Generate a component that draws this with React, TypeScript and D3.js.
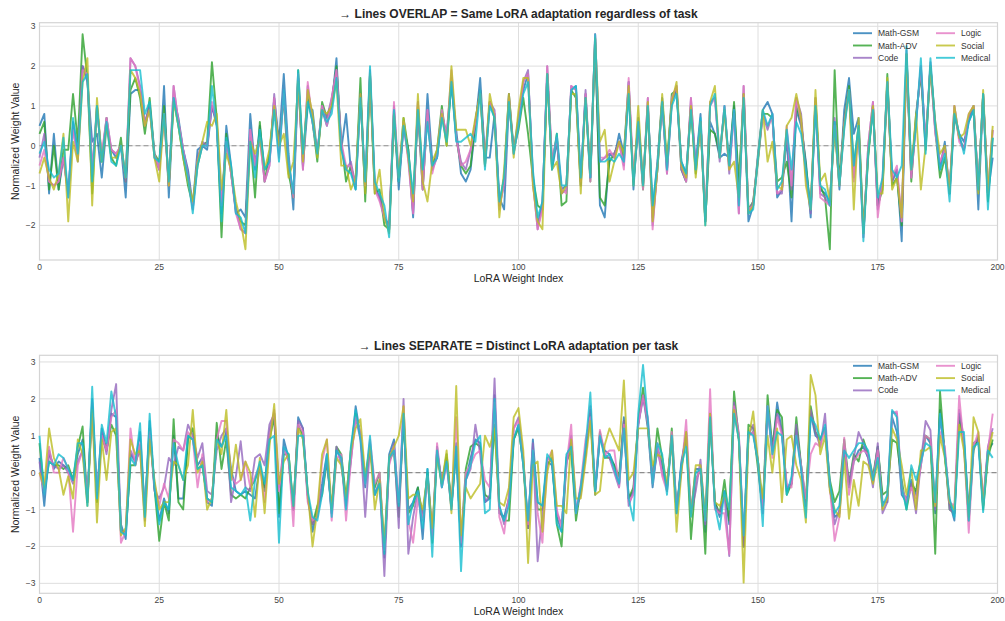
import React from 'react';
import * as d3 from 'd3';

const seriesNames = ['Math-GSM', 'Math-ADV', 'Code', 'Logic', 'Social', 'Medical'];
const seriesColors = ['#1f77b4', '#2ca02c', '#9467bd', '#e377c2', '#bcbd22', '#17becf'];
const xTicks = [0, 25, 50, 75, 100, 125, 150, 175, 200];
const overlapYTicks = [-2, -1, 0, 1, 2, 3];
const separateYTicks = [-3, -2, -1, 0, 1, 2, 3];

// top panel: all tasks share the same adaptation
const overlapMathGsm = [
  0.5, 0.8, -1.2, 0.3, -1.1, -0.3, -1.2, 0.6, -0.1, 2.0,
  1.6, 0.1, 0.3, -0.8, 0.5, -0.1, -0.3, 0.0, -1.3, 1.3,
  1.4, 1.4, 0.5, 1.0, -0.2, -0.6, 1.5, -1.3, 1.2, 0.7,
  -0.1, -0.6, -1.5, -0.1, 0.0, -0.1, 1.0, 0.5, -1.7, 0.5,
  -0.5, -1.7, -1.6, -1.8, 0.8, -0.6, 0.5, -0.6, -0.4, 1.2,
  0.1, 1.8, -0.2, -1.6, 1.7, -0.5, 1.0, 0.9, -0.2, 0.9,
  0.5, 1.0, 2.2, -0.1, 0.8, -0.6, -1.1, 1.3, -1.2, 1.8,
  -1.0, -1.3, -1.8, -2.0, 0.8, -1.1, 0.5, -0.1, -1.8, 1.0,
  -0.9, 1.3, -0.4, -0.3, 0.8, 0.2, 1.6, 0.4, -0.7, -0.9,
  -0.6, 0.5, 1.7, -0.3, -0.3, 0.8, -1.3, -1.6, 1.1, -0.1,
  0.7, 1.4, 1.8, -0.7, -2.0, -1.4, 1.8, -0.6, 0.1, -1.1,
  -1.0, 1.4, 1.5, -0.9, 1.3, -0.8, 2.7, -1.5, -1.8, -0.2,
  -0.3, 0.3, -0.2, 1.6, -1.1, 0.7, -0.9, 1.0, -1.6, -0.4,
  1.2, -0.5, 1.1, 1.4, -0.4, -0.7, 1.0, -0.5, 0.8, -1.9,
  0.6, 0.3, -0.3, -0.2, -0.3, 1.0, -1.2, 1.3, -1.9, -1.5,
  -0.2, 0.9, 1.1, 0.8, -1.3, -1.1, 0.2, -1.9, 0.9, 0.5,
  -0.4, -1.8, 1.1, -1.1, -1.2, -1.4, 0.6, -1.1, 0.9, 1.7,
  0.3, 0.7, -2.1, -0.2, 1.0, -1.5, -1.0, 1.5, -0.9, -0.6,
  -2.4, 2.2, -0.7, 0.7, 1.9, 0.1, 2.0, 0.6, -0.6, 0.1,
  -1.2, 0.8, 0.3, 0.1, 0.6, 0.9, -1.6, 1.3, -1.2, -0.3,
];
const overlapMathAdv = [
  0.3, 0.6, -1.1, 0.0, -1.1, -0.1, -0.1, 1.3, 0.1, 2.8,
  1.7, -1.2, 1.0, -0.4, 0.7, -0.3, -0.5, 0.2, -0.9, 1.4,
  1.7, 1.2, 0.3, 1.2, -0.2, -0.4, 1.0, -1.0, 1.2, 0.5,
  -0.3, -1.0, -1.5, -0.5, 0.0, 0.1, 2.1, 0.7, -2.3, 0.3,
  -0.7, -1.6, -1.9, -2.0, 0.2, -1.3, 0.6, -0.9, -0.2, 1.0,
  0.0, 1.2, -0.7, -1.3, 1.9, -0.3, 1.2, 0.6, -0.4, 1.1,
  0.7, 1.1, 2.0, 0.1, -0.9, -0.5, -1.0, 1.7, -1.4, 1.7,
  -1.2, -1.1, -2.0, -2.1, 0.8, -0.9, 0.7, -0.1, -1.5, 0.9,
  -1.1, 0.8, -0.6, -0.1, 1.0, 0.0, 1.6, 0.2, -0.5, -0.7,
  -0.5, 0.6, 1.4, -0.5, 1.1, 0.7, -1.5, -0.8, 1.3, -0.1,
  0.4, 1.2, 0.3, -0.8, -1.5, -1.6, 1.8, -0.5, 0.3, -1.5,
  -1.4, 1.4, 1.2, -1.0, 1.2, -0.9, 2.6, -1.3, -1.5, -0.4,
  -0.2, 0.1, -0.3, 1.4, -0.9, 0.5, -1.1, 1.0, -1.8, -0.6,
  1.1, -0.6, 1.3, 1.4, -0.6, -0.9, 1.0, -0.7, 0.6, -1.9,
  0.4, 0.3, -0.2, 0.9, -0.5, 1.1, -0.9, 1.3, -1.6, -1.4,
  -0.4, 0.8, 0.8, 0.7, -0.9, -0.8, -0.4, -1.3, 1.0, 0.6,
  -0.5, -1.6, 1.2, -1.0, -1.3, -2.6, 1.9, -0.9, 0.6, 1.5,
  -0.5, 0.5, -2.2, -0.3, 1.0, -1.5, -1.1, 1.8, -1.0, -0.8,
  -2.0, 2.3, -0.9, 0.8, 1.8, -0.1, 2.0, 0.4, -0.8, -0.3,
  -1.1, 0.8, 0.2, -0.1, 0.7, 1.0, -1.1, 1.3, -1.4, 0.2,
];
const overlapCode = [
  -0.3, 0.3, -0.9, -1.0, -0.9, -0.3, -1.2, 0.5, -0.4, 2.0,
  1.7, -0.6, 1.0, -0.3, 0.7, -0.1, -0.2, 0.0, -0.9, 2.2,
  2.0, 1.5, 0.6, 1.0, -0.3, -0.6, 0.8, -1.0, 1.5, 0.6,
  -0.1, -0.7, -1.6, -0.3, 0.1, 0.0, 1.0, 0.6, -1.5, 0.1,
  -0.7, -1.6, -2.1, -2.2, 0.4, -0.4, 0.2, -0.9, -0.5, 1.3,
  -0.2, 1.4, -0.5, -1.2, 1.7, -0.6, 1.5, 0.6, -0.2, 1.0,
  0.7, 1.2, 1.9, 0.0, -0.6, -0.4, -1.0, 1.3, -1.0, 1.9,
  -1.1, -1.3, -1.8, -2.1, 1.0, -0.9, 0.5, -0.3, -1.7, 1.1,
  -1.1, 0.9, -0.6, -0.3, 0.8, 0.3, 1.7, 0.2, -0.4, -0.6,
  -0.1, 0.6, 1.4, -0.3, 1.1, 0.9, -1.5, -1.0, 1.3, -0.2,
  0.6, 1.6, 1.9, -0.9, -2.1, -1.5, 2.0, -0.4, 0.2, -1.2,
  -1.1, 1.5, 1.4, -1.0, 1.4, -0.8, 2.8, -0.4, -0.3, -0.2,
  -0.2, 0.1, -0.5, 1.6, -0.9, 0.6, -1.0, 1.2, -2.0, -0.6,
  1.1, -0.7, 1.1, 1.5, -0.6, -0.9, 1.2, -0.5, 0.6, -1.9,
  1.1, 1.2, -0.4, 1.0, -0.7, 0.9, -1.7, 1.5, -1.7, -1.4,
  -0.3, 0.8, 0.4, 0.8, -1.2, -1.2, 0.4, -1.1, 1.2, 0.8,
  -0.7, -1.7, 1.1, -1.2, -1.3, -1.5, 0.7, -1.0, 0.6, 1.4,
  -0.8, 0.4, -2.3, 0.0, 1.1, -1.6, -0.9, 1.6, -0.9, -0.6,
  -1.9, 2.4, -0.8, 0.6, 2.0, 0.0, 2.1, 0.4, -0.5, 0.0,
  -1.2, 1.0, 0.2, -0.1, 0.7, 1.0, -1.1, 1.3, -1.2, 0.4,
];
const overlapLogic = [
  -0.5, -0.1, -0.9, -1.0, -0.9, -0.3, -1.3, 0.4, -0.3, 1.9,
  1.8, -0.7, 0.9, -0.2, 0.7, -0.1, -0.2, 0.0, -0.8, 2.2,
  2.0, 1.4, 0.5, 0.9, -0.2, -0.6, 0.7, -1.0, 1.5, 0.6,
  -0.1, -0.8, -1.6, -0.4, 0.0, 0.0, 1.1, 0.6, -1.5, 0.1,
  -0.7, -1.7, -2.1, -2.2, 0.4, -0.5, 0.2, -0.9, -0.5, 1.2,
  -0.3, 1.3, -0.4, -1.3, 1.8, -0.6, 1.6, 0.6, -0.2, 1.0,
  0.5, 1.2, 1.9, 0.1, -0.5, -0.5, -1.0, 1.2, -1.0, 1.8,
  -1.1, -1.4, -1.8, -2.1, 1.1, -0.8, 0.6, -0.4, -1.7, 1.1,
  -1.1, 0.9, -0.7, -0.2, 0.9, 0.2, 1.9, 0.2, -0.5, -0.4,
  -0.1, 0.6, 1.3, -0.5, 1.1, 0.8, -1.6, -0.9, 1.2, -0.2,
  0.6, 1.6, 1.8, -0.9, -2.1, -1.6, 2.0, -0.4, 0.2, -1.1,
  -1.2, 1.5, 1.4, -0.9, 1.3, -0.9, 2.8, -0.3, -0.3, -0.1,
  -0.3, 0.1, -0.6, 1.7, -0.8, 0.6, -1.1, 1.2, -2.1, -0.5,
  1.1, -0.7, 1.2, 1.5, -0.5, -0.9, 1.2, -0.6, 0.6, -1.8,
  1.0, 1.2, -0.3, 1.0, -0.6, 0.8, -1.7, 1.5, -1.6, -1.5,
  -0.3, 0.8, 0.5, 0.7, -1.2, -1.1, 0.5, -1.0, 1.2, 0.6,
  -0.8, -1.6, 1.2, -1.3, -1.4, -1.5, 0.5, -1.0, 0.5, 1.4,
  -0.9, 0.4, -2.3, 0.0, 1.1, -1.8, -0.8, 1.6, -0.8, -0.5,
  -1.9, 2.3, -0.8, 0.6, 2.0, 0.1, 2.0, 0.3, -0.4, -0.1,
  -1.1, 1.0, 0.1, -0.1, 0.8, 1.0, -1.0, 1.2, -1.2, 0.4,
];
const overlapSocial = [
  -0.7, -0.3, -0.8, -1.1, -0.7, 0.3, -1.9, 0.1, -0.4, 1.6,
  2.2, -1.5, 1.2, -0.4, 0.5, -0.3, -0.3, 0.0, -0.8, 1.9,
  1.7, 1.3, 0.5, 0.9, -0.3, -0.9, 0.8, -1.0, 1.1, 0.5,
  -0.3, -0.9, -1.4, -0.4, 0.1, 0.6, 0.5, 0.8, -1.1, -0.2,
  -0.6, -1.4, -1.9, -2.6, 0.1, -0.2, 0.2, -0.6, -0.1, 1.0,
  0.0, 0.3, -0.8, -0.4, 1.6, -0.4, 1.4, 0.8, -0.3, 0.9,
  0.8, 1.0, 1.6, -0.5, -0.5, -1.1, -0.8, 1.3, -1.2, 1.8,
  -1.2, -0.6, -1.8, -2.2, 0.8, -0.8, 0.7, -0.3, -1.4, 1.3,
  -0.9, -1.4, -0.4, -0.1, 0.8, 0.0, 2.0, 0.4, 0.4, 0.4,
  0.0, 0.7, 1.3, -0.5, 1.3, 0.7, -1.8, -0.6, 1.3, -0.3,
  0.9, 1.7, 1.7, -1.0, -1.9, -2.1, 1.8, -0.6, -0.4, -1.2,
  -1.0, 1.3, 1.3, -1.2, 1.2, -0.7, 2.7, 0.1, 0.4, -0.9,
  -0.4, 0.1, -0.2, 1.5, -1.0, 1.0, -1.0, 1.1, -1.9, -0.6,
  1.3, -0.4, 1.1, 1.6, -0.5, -0.8, 1.0, -0.8, 0.6, -2.0,
  1.1, 1.5, -0.3, 0.9, -0.6, -0.4, -1.3, 1.3, -1.7, -1.5,
  -0.3, 0.9, -0.4, 0.1, -1.0, -1.1, 0.5, 0.7, 1.3, 0.7,
  -1.0, -1.6, 1.4, -0.9, -0.7, -1.4, 0.4, -1.0, 0.5, 1.4,
  -1.6, 0.7, -2.2, -0.2, 1.0, -1.2, -1.2, 1.7, -1.1, -0.8,
  -1.8, 2.3, -0.6, 0.8, -1.1, 0.0, 2.0, 0.6, -0.2, 0.0,
  -1.2, 1.0, 0.2, 0.3, 0.8, 1.0, -1.2, 1.4, -1.2, 0.5,
];
const overlapMedical = [
  -0.2, 0.1, -0.6, -0.8, -0.7, 0.2, -1.3, 0.7, -0.2, 1.6,
  1.8, -0.9, 1.0, -0.4, 0.6, -0.4, -0.5, 0.0, -0.8, 1.9,
  1.9, 1.9, 0.8, 1.1, -0.3, -0.4, 0.8, -0.9, 1.2, 0.5,
  -0.2, -0.8, -1.7, -0.5, 0.0, 0.0, 1.5, 0.5, -1.9, 0.2,
  -0.5, -1.7, -1.8, -2.2, 0.1, -0.8, 0.4, -0.6, -0.4, 0.9,
  -0.4, 1.4, -0.4, -1.2, 1.9, -0.2, 1.1, 0.6, -0.2, 0.9,
  0.6, 0.8, 1.7, -0.1, -0.6, -0.7, -1.1, 1.2, -0.9, 2.0,
  -0.9, -1.2, -1.5, -2.3, 0.9, -0.9, 0.5, -0.2, -1.2, 0.9,
  -0.6, 0.6, -0.5, -0.3, 0.7, 0.1, 1.6, 0.1, 0.1, 0.2,
  0.3, 0.1, 1.4, -0.6, 1.0, 0.7, -1.4, -0.8, 1.1, -0.2,
  0.5, 1.3, 1.6, -0.6, -1.8, -1.4, 1.8, -0.6, 0.3, -1.0,
  -1.0, 1.4, 1.5, -0.8, 1.2, -0.8, 2.8, -0.4, -0.4, -0.3,
  -0.4, -0.2, -0.4, 1.3, -1.0, 0.6, -1.0, 1.0, -1.5, -0.5,
  1.1, -0.6, 1.0, 1.3, -0.4, -0.7, 0.9, -0.6, 0.7, -2.0,
  1.0, 1.3, -0.3, 1.0, -0.5, 0.9, -1.5, 1.2, -1.7, -1.6,
  -0.3, 0.9, 0.5, 0.8, -1.1, -0.9, 0.4, -0.6, 0.6, 0.3,
  -0.6, -1.6, 1.0, -1.0, -1.1, -1.5, 0.6, -1.0, 0.4, 1.4,
  -0.5, 0.5, -2.4, -0.2, 0.9, -1.3, -0.8, 1.6, -0.6, -0.8,
  -0.5, 2.5, -0.6, 0.5, 2.2, -0.2, 2.2, 0.5, -0.6, -0.2,
  -1.4, 0.8, 0.3, -0.2, 0.6, 0.9, -1.1, 1.3, -1.6, 0.2,
];

// bottom panel: each task has its own adaptation
const separateMathGsm = [
  0.4, -0.9, 0.6, 0.1, 0.3, 0.2, 0.1, -0.2, 0.5, 0.9,
  -0.8, 2.0, -0.6, 1.2, 0.6, 1.6, 1.5, -1.4, -1.8, 0.5,
  0.3, 1.1, -1.1, 1.4, -0.4, -1.3, -0.7, -1.1, 1.0, -0.7,
  -0.7, 1.0, 0.9, 0.2, 0.4, -0.8, -0.9, 1.0, 0.7, 1.1,
  0.1, -0.5, -0.6, -0.5, -0.6, -0.7, 0.2, -0.4, 1.1, 1.6,
  -1.2, 0.9, 0.4, -1.0, 1.5, 1.2, -0.6, -1.6, -1.0, -0.3,
  0.5, -1.1, 0.6, 0.4, -0.9, 0.4, 1.8, 1.0, -0.4, 0.8,
  -0.6, -0.3, -2.3, 0.5, 0.9, -1.0, 1.5, -1.0, -0.8, -0.4,
  -1.8, 0.1, -1.7, 0.7, -0.4, 0.4, -0.9, 0.8, -2.0, -0.2,
  0.4, 0.9, 0.8, -0.8, -0.7, 2.1, -1.1, -1.2, -0.7, 0.9,
  1.3, 0.2, -1.5, 0.9, -0.8, -0.9, 0.3, 0.2, -1.2, -1.6,
  0.4, 0.8, -1.1, -0.4, 0.5, 1.7, -0.6, 1.0, 0.6, 0.5,
  0.2, -0.3, 1.5, -0.7, -0.5, 1.3, 2.1, 1.2, -0.4, 0.7,
  0.2, -0.4, 0.9, -1.1, 0.3, 1.0, -1.1, 0.1, 0.1, -1.6,
  1.6, -0.8, -1.2, -0.5, -1.4, 1.8, 0.9, -2.0, 1.0, 1.1,
  0.3, -1.0, 1.7, 0.6, 1.9, 1.1, -0.5, -0.3, 1.2, 0.2,
  -0.9, 1.6, 1.0, 0.9, 1.2, -0.4, -1.2, -1.1, 0.7, -0.4,
  0.3, 0.6, 0.7, 0.4, -0.2, 0.7, -0.8, -0.8, 1.5, 1.1,
  -0.6, -0.8, -0.2, -0.6, 0.2, 1.0, 0.8, -1.1, 1.7, 0.5,
  -0.8, -1.3, 1.6, 0.8, -1.0, 0.7, 0.9, -0.9, 0.6, 0.8,
];
const separateMathAdv = [
  0.8, -0.5, 0.3, 0.2, 0.2, 0.1, 0.2, -0.2, 0.7, 1.25,
  -0.8, 1.8, -0.8, 1.0, 0.6, 1.3, 1.0, -1.6, -1.6, 0.2,
  0.2, 0.75, -1.0, 1.2, -0.4, -1.85, -0.8, -1.3, 1.45, -0.8,
  -1.0, 0.9, 1.2, 0.1, 0.2, -0.7, -0.8, 1.35, 0.1, 0.9,
  -0.6, -0.7, -0.6, -0.7, -0.4, -0.2, 0.2, -0.5, 0.9, 1.5,
  -1.1, 0.5, 0.5, -1.0, 1.3, 1.0, -0.6, -1.4, -0.9, -0.6,
  0.3, -1.0, 0.7, 0.5, -0.7, 0.6, 1.6, 1.0, -0.2, 0.7,
  -0.4, 0.0, -2.2, 0.3, 0.6, -1.2, 1.5, -1.1, -0.9, -0.4,
  -1.2, 0.0, -1.9, 0.6, -0.3, 0.5, -0.9, 0.6, -1.9, 0.1,
  0.7, 0.8, 0.7, -0.6, -0.7, 1.3, -1.0, -1.3, -1.3, 0.9,
  1.2, 0.3, -1.5, 0.5, -1.0, -1.0, 0.2, 0.4, -1.4, -2.0,
  0.3, 0.6, -1.3, -0.4, 0.5, 1.6, -0.5, 1.1, 0.4, 0.4,
  0.2, -0.1, 1.4, -0.7, -0.4, 1.4, 2.3, 1.3, -0.2, 1.2,
  0.4, -0.5, 1.2, -1.0, 0.1, 1.1, -1.8, -0.2, 0.1, -2.2,
  1.5, -0.8, -1.1, -0.2, -1.3, 2.2, 0.9, -2.0, 1.3, 1.2,
  0.1, -1.0, 2.1, 0.7, 1.7, 1.5, -0.6, -0.3, 1.5, 0.2,
  -0.8, 1.8, 1.1, 0.9, 1.2, -0.2, -0.8, -0.5, 0.9, -0.3,
  0.5, 0.3, 0.9, 0.5, -0.1, 0.7, -0.6, -0.5, 0.9, 0.8,
  -0.2, -1.0, -0.3, -0.5, 0.4, 1.0, 0.9, -2.2, 2.2, 0.5,
  -1.0, -1.1, 1.5, 0.8, -1.3, 0.6, 1.0, -1.0, 0.4, 0.9,
];
const separateCode = [
  0.3, -0.6, 0.5, 0.2, 0.1, 0.2, 0.0, -0.3, 0.3, 0.6,
  -0.7, 1.9, -0.7, 1.1, 0.5, 1.7, 2.4, -1.6, -1.6, 0.6,
  0.3, 0.6, -1.3, 1.2, -0.5, -0.7, -0.4, 0.4, 0.2, 0.7,
  0.6, 1.3, 1.0, 0.4, 0.8, -0.5, -0.6, 0.6, 1.0, 1.2,
  -0.8, -0.1, 0.85, -0.4, -0.5, 0.4, 0.5, 0.2, 1.3, 1.6,
  -0.4, 0.7, 0.3, -1.0, 1.4, 1.2, -0.7, -1.4, -1.2, -0.5,
  0.4, -1.1, 0.7, 0.2, -0.8, 0.3, 1.5, 0.9, -1.2, 0.7,
  -0.6, -0.2, -2.8, 0.3, 0.8, -1.5, 2.0, -2.2, -1.2, -0.5,
  -1.2, -0.1, -1.7, 0.5, -0.2, 0.3, -1.0, 0.7, -2.0, -0.2,
  0.1, 1.3, 0.5, -0.8, -0.6, 2.55, -0.9, -1.4, -0.7, 1.2,
  1.5, 0.4, -1.5, 0.8, -2.4, -1.1, 0.4, 0.3, -1.1, -1.4,
  0.2, 1.0, -1.0, -0.6, 0.5, 1.8, -0.5, 1.0, 0.5, 0.4,
  0.0, -0.4, 1.4, -0.9, -0.5, 1.3, 2.0, 1.5, -0.2, 0.6,
  0.0, -0.4, 0.9, -1.1, 0.2, 1.0, -1.1, -0.5, 0.35, -1.4,
  1.6, -0.9, -1.1, -0.6, -2.26, 1.9, 1.07, -2.0, 1.0, 1.3,
  0.3, -1.1, 1.8, 0.6, 1.6, 1.1, -0.4, -0.3, 1.3, 0.1,
  -0.9, 1.7, 1.1, 0.7, 1.6, -0.4, -1.4, -1.0, 0.7, -0.3,
  0.4, 1.1, 0.8, 0.4, -0.4, 0.8, -1.1, -0.8, 1.65, 1.6,
  -0.5, -0.7, -0.3, -1.1, 0.3, 1.4, 1.15, -1.0, 1.5, 0.6,
  -1.0, -1.1, 1.7, 0.9, -1.2, 0.8, 0.9, -0.8, 0.7, 1.2,
];
const separateLogic = [
  0.0, -0.5, 0.7, 0.0, 0.0, 0.4, 0.1, -1.6, 0.2, 0.6,
  -0.6, 1.6, -0.5, 1.0, 0.6, 1.5, 1.7, -1.9, -1.6, 1.2,
  0.2, 0.8, -1.0, 1.1, -0.3, -0.9, -0.3, -0.7, 0.9, 0.8,
  0.6, 1.1, 0.9, -0.4, 0.5, -0.8, -0.7, 0.9, 1.4, 1.4,
  -0.1, -0.3, -0.2, 0.3, -0.4, -0.1, 0.2, -0.8, 1.0, 1.7,
  -0.5, 0.6, 0.4, -1.45, 1.3, 1.1, -0.8, -1.3, -1.2, 0.3,
  0.9, -1.3, 0.4, 0.5, -1.3, 0.3, 1.5, 1.1, -0.3, 0.9,
  -0.3, 0.0, -2.1, 0.2, 0.7, -0.8, 1.8, -1.3, -1.9, -0.7,
  -1.3, -0.1, -1.8, 0.8, -0.4, 0.2, -0.9, 1.5, -1.9, 0.0,
  0.2, 0.5, 0.6, -0.2, -0.4, 1.9, -1.2, -1.65, -0.6, 1.2,
  1.4, 0.3, -1.4, 0.6, -1.1, -1.9, 0.3, 0.6, -1.0, -1.5,
  0.2, 1.3, -1.1, -0.3, 0.9, 1.5, -0.4, 1.16, 0.5, 0.6,
  0.6, -0.4, 1.3, -0.8, -0.6, 1.3, 2.1, 1.3, -0.3, 0.8,
  -0.1, -0.5, 1.1, -1.0, 0.0, 1.43, -1.0, -0.2, 0.1, -1.3,
  2.26, -1.0, -1.1, -1.1, -2.2, 1.8, 1.0, -1.7, 1.0, 1.1,
  0.3, -1.1, 1.8, 0.4, 1.5, 1.0, -0.3, -0.4, 1.0, 0.2,
  -0.7, 0.5, 0.8, 0.7, 1.2, -0.4, -1.85, -1.2, 0.95, -0.6,
  0.3, 0.5, 0.6, 0.5, -0.2, 0.6, -0.9, -0.7, 1.6, 1.66,
  -0.4, -0.8, -0.4, -0.7, 0.2, 1.0, 0.9, -0.9, 1.1, 0.7,
  -0.8, -0.9, 2.08, 0.7, -1.63, 0.7, 1.1, -0.8, 0.6, 1.6,
];
const separateSocial = [
  0.0, -0.4, 1.2, 0.4, 0.1, -0.6, -0.1, -0.7, 0.9, 0.5,
  -0.9, 1.7, -1.35, 0.9, -0.2, 1.1, 1.2, -1.7, -1.5, 0.9,
  0.5, 0.6, -1.45, 0.9, -0.2, -1.0, -0.8, -0.8, 0.3, 0.2,
  -0.2, 0.2, 1.7, 0.0, 0.3, -1.0, -0.7, 0.9, 0.5, 1.7,
  -0.2, 0.76, -0.2, 0.3, 0.0, -1.2, 0.4, -1.1, 0.7, 1.86,
  -0.3, 0.3, 0.5, -0.9, 1.2, 0.9, -0.5, -2.0, -1.0, 0.5,
  0.9, -1.0, 0.4, 0.2, -0.7, 0.6, 1.2, 1.45, -0.1, 0.7,
  -1.0, -0.2, -1.9, 0.4, 0.7, 1.0, 1.8, -0.7, -0.6, -0.6,
  -1.0, -0.1, -1.5, 0.4, -0.3, 0.6, -1.1, 2.35, -1.7, -0.4,
  -0.7, -0.5, -0.3, 1.0, 0.7, 1.2, -0.8, -0.9, -0.4, 1.5,
  1.75, 0.6, -2.45, 0.2, 0.3, -1.6, 0.0, 0.6, -0.9, -0.9,
  -1.1, 0.9, -0.7, -0.7, 0.3, 1.4, -0.6, -0.5, 0.75, 1.2,
  0.9, 0.6, 2.5, -0.2, 0.0, 1.2, 1.2, 1.2, 0.2, 0.5,
  0.4, -0.3, 0.9, -1.6, 0.0, 1.1, -1.2, 0.2, 0.2, -1.2,
  1.6, -0.8, -0.9, -0.6, -1.0, 1.7, 0.9, -2.98, 0.9, 1.66,
  0.3, -0.7, 1.0, 0.0, 1.2, -0.8, 0.9, 1.0, 0.2, -0.2,
  -1.35, 2.65, 2.1, 0.5, 1.0, -0.5, -1.0, -1.2, 0.4, -1.25,
  -0.2, -0.9, 0.3, 0.2, -0.3, 0.3, -1.0, -0.7, 1.2, 0.9,
  0.2, -0.6, 0.1, -1.0, 0.6, 0.6, 0.7, -0.9, 1.0, 0.4,
  -0.8, -1.0, 1.3, 0.6, -1.2, 1.5, 1.1, -0.9, 0.5, 1.1,
];
const separateMedical = [
  1.0, -0.6, 0.3, 0.2, 0.5, 0.4, 0.1, -0.2, 0.8, 0.8,
  -0.9, 2.33, -0.7, 1.3, 0.8, 2.2, 1.5, -1.6, -1.7, 0.4,
  0.2, 1.34, -1.2, 1.6, -0.4, -1.4, -0.8, -1.0, 0.8, 0.2,
  -0.2, 1.0, 0.9, 0.1, 0.2, -0.7, -0.8, 0.9, 0.7, 1.0,
  -0.4, -0.5, -0.6, -0.4, -1.3, -0.2, 0.3, -0.3, 0.9, 1.0,
  -1.9, 0.7, 0.5, -0.9, 1.0, 1.0, -0.5, -1.2, -1.3, -0.6,
  0.5, -1.2, 0.6, 0.4, -1.0, 0.7, 1.7, 0.9, -0.3, 1.0,
  -0.6, -0.3, -2.2, 0.4, 0.6, -0.9, 1.6, -1.4, -0.8, -0.5,
  -1.5, 0.1, -2.28, 0.6, -0.4, 0.3, -1.0, 0.7, -2.67, -0.2,
  0.2, 0.8, 1.0, -1.1, -1.0, 2.0, -0.9, -1.3, -0.9, 0.9,
  1.3, 0.2, -1.3, 0.6, -0.8, -0.9, 0.5, 0.3, -1.4, -1.6,
  0.5, 0.7, -1.1, -0.4, 0.7, 2.17, -0.5, 1.0, 0.4, 0.5,
  0.1, -0.3, 1.2, -0.7, -1.3, 1.6, 2.92, 1.4, -0.3, 0.8,
  0.5, -0.6, 1.0, -1.1, 0.2, 0.7, -1.2, 0.0, 0.1, -1.3,
  1.5, -0.9, -1.54, -0.5, -1.0, 1.6, 0.9, -1.7, 1.1, 1.0,
  0.3, -1.45, 1.8, 0.5, 1.1, 1.0, -0.6, -0.1, 1.0, 0.1,
  -1.22, 1.5, 1.3, 0.9, 1.3, -0.3, -1.1, -0.9, 0.6, 0.4,
  0.6, 0.8, 0.8, 0.6, -0.2, 0.4, -0.9, -0.6, 1.7, 1.5,
  -0.4, -1.0, 0.2, -0.2, 0.3, 0.8, 0.7, -0.8, 1.6, 0.5,
  -0.7, -1.2, 1.1, 1.1, -1.3, 0.7, 0.8, -1.07, 0.6, 0.4,
];

const overlapSeries = [overlapMathGsm, overlapMathAdv, overlapCode, overlapLogic, overlapSocial, overlapMedical];
const separateSeries = [separateMathGsm, separateMathAdv, separateCode, separateLogic, separateSocial, separateMedical];

const FONT = '"Liberation Sans", Arial, sans-serif';
const LEFT = 39.5;
const RIGHT = 997.5;

type PanelProps = {
  title: string;
  top: number;
  bottom: number;
  yDomain: [number, number];
  yTicks: number[];
  data: number[][];
};

const Panel = ({ title, top, bottom, yDomain, yTicks, data }: PanelProps) => {
  const x = d3.scaleLinear().domain([0, 200]).range([LEFT, RIGHT]);
  const y = d3.scaleLinear().domain(yDomain).range([bottom, top]);
  const line = d3.line<number>().x((_, i) => x(i)).y(d => y(d));
  const midY = (top + bottom) / 2;

  return (
    <g>
      <text x={(LEFT + RIGHT) / 2} y={top - 5} textAnchor="middle" fontSize={12}
        fontWeight="bold" fill="#262626" fontFamily={FONT}>{title}</text>

      {xTicks.map(t => (
        <line key={'gx' + t} x1={x(t)} x2={x(t)} y1={top} y2={bottom} stroke="#dedede" strokeWidth={1} />
      ))}
      {yTicks.map(t => (
        <line key={'gy' + t} x1={LEFT} x2={RIGHT} y1={y(t)} y2={y(t)} stroke="#dedede" strokeWidth={1} />
      ))}
      <rect x={LEFT} y={top} width={RIGHT - LEFT} height={bottom - top} fill="none" stroke="#d4d4d4" strokeWidth={1.2} />

      {xTicks.map(t => (
        <text key={'tx' + t} x={x(t)} y={bottom + 10} textAnchor="middle" fontSize={8.5}
          fill="#444" fontFamily={FONT}>{t}</text>
      ))}
      {yTicks.map(t => (
        <text key={'ty' + t} x={LEFT - 4} y={y(t) + 3} textAnchor="end" fontSize={8.5}
          fill="#444" fontFamily={FONT}>{t < 0 ? '\u2212' + Math.abs(t) : t}</text>
      ))}

      <text x={(LEFT + RIGHT) / 2} y={bottom + 22} textAnchor="middle" fontSize={10.5}
        fill="#262626" fontFamily={FONT}>LoRA Weight Index</text>
      <text transform={`translate(19,${midY}) rotate(-90)`} textAnchor="middle" fontSize={10.5}
        fill="#262626" fontFamily={FONT}>Normalized Weight Value</text>

      <line x1={LEFT} x2={RIGHT} y1={y(0)} y2={y(0)} stroke="#555" strokeOpacity={0.6}
        strokeWidth={1.2} strokeDasharray="5,3" />

      {data.map((d, i) => (
        <path key={seriesNames[i]} d={line(d) || ''} fill="none" stroke={seriesColors[i]}
          strokeWidth={1.9} strokeOpacity={0.8} strokeLinejoin="round" />
      ))}

      {seriesNames.map((name, i) => {
        const col = Math.floor(i / 3);
        const row = i % 3;
        const lx = RIGHT - 144.5 + col * 83;
        const ly = top + 10.5 + row * 12.3;
        return (
          <g key={'lg' + name}>
            <line x1={lx} x2={lx + 19} y1={ly} y2={ly} stroke={seriesColors[i]} strokeWidth={1.9} strokeOpacity={0.8} />
            <text x={lx + 25} y={ly + 3} fontSize={8.5} fill="#333" fontFamily={FONT}>{name}</text>
          </g>
        );
      })}
    </g>
  );
};

export default function App() {
  return (
    <svg width={1005} height={621} style={{ position: 'absolute', left: 0, top: 0, background: '#fff' }}>
      <rect width={1005} height={621} fill="#fff" />
      <Panel title={'\u2192 Lines OVERLAP = Same LoRA adaptation regardless of task'} top={22.7} bottom={260}
        yDomain={[-2.87, 3.09]} yTicks={overlapYTicks} data={overlapSeries} />
      <Panel title={'\u2192 Lines SEPARATE = Distinct LoRA adaptation per task'} top={355.3} bottom={593.3}
        yDomain={[-3.27, 3.18]} yTicks={separateYTicks} data={separateSeries} />
    </svg>
  );
}
